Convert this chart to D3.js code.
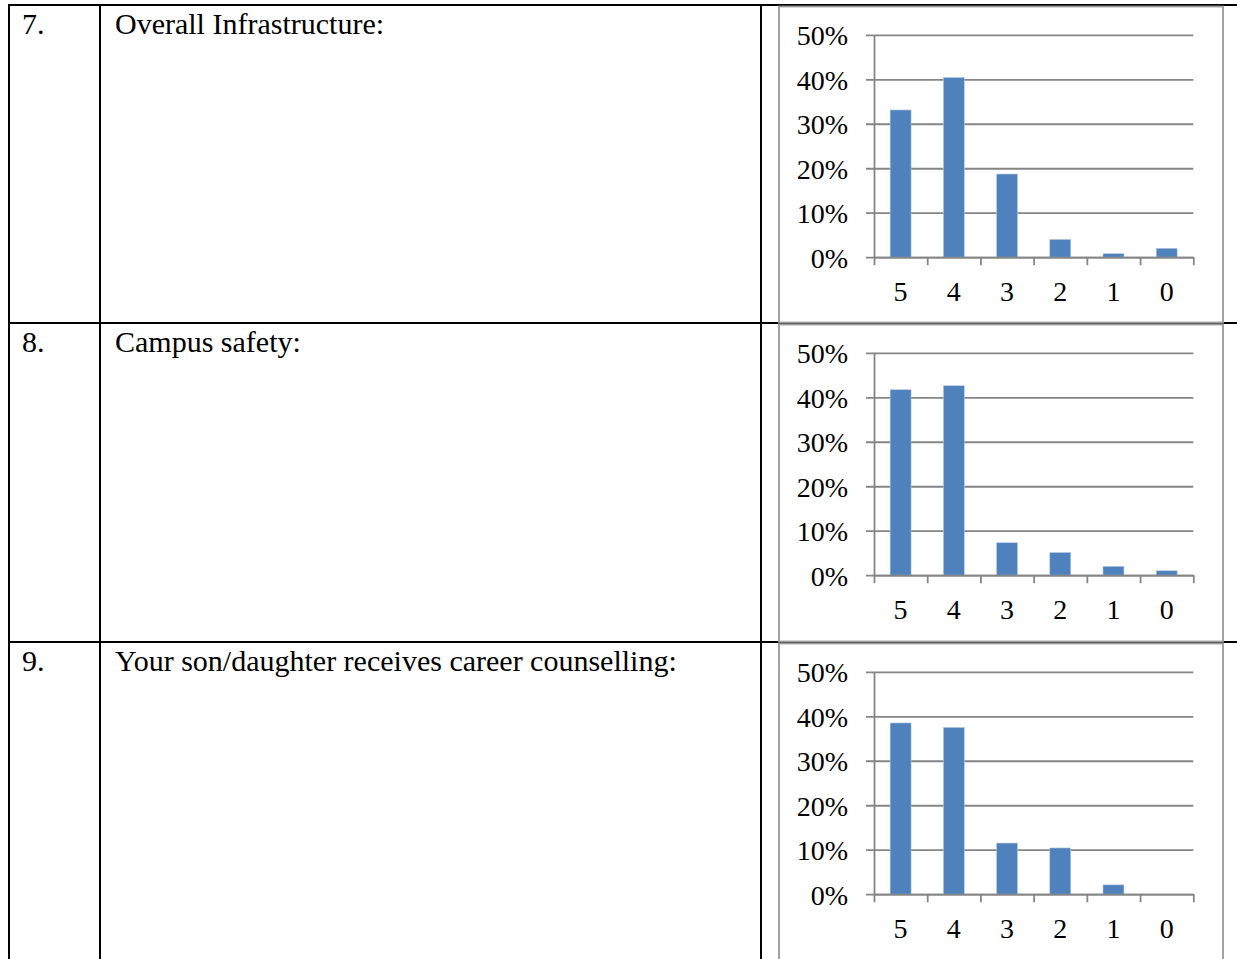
<!DOCTYPE html>
<html>
<head>
<meta charset="utf-8">
<script src="https://cdn.jsdelivr.net/npm/d3@7"></script>
<style>
  body { margin: 0; background: #fff; }
  svg { display: block; }
  .rowtext { font-family: "Liberation Serif", "Times New Roman", serif; font-size: 30px; fill: #000; }
  .axislabel { font-family: "Liberation Serif", serif; font-size: 28px; fill: #000; }
</style>
</head>
<body>
<svg width="1237" height="959"></svg>
<script>
// survey rows
const itemNumbers = ["7.", "8.", "9."];
const itemLabels = [
  "Overall Infrastructure:",
  "Campus safety:",
  "Your son/daughter receives career counselling:"
];
const ratings = ["5", "4", "3", "2", "1", "0"];

// percentage of responses per rating
const infrastructure = [33.1, 40.4, 18.7, 4.0, 0.8, 2.0];
const campusSafety = [41.7, 42.6, 7.3, 5.1, 2.0, 1.0];
const careerCounselling = [38.5, 37.5, 11.5, 10.4, 2.1, 0];
const seriesList = [infrastructure, campusSafety, careerCounselling];

const yTicks = [0, 10, 20, 30, 40, 50];

const W = 1237, H = 959;
const rowTops = [5, 323, 642];
const tableLeft = 9, colNum = 100, colChart = 761;
const frameLeft = 779, frameRight = 1223;
const plotLeft = 874, plotRight = 1193.3, plotH = 222.4;
const gray = "#858585";
const barColor = "#4F81BD";

const svg = d3.select("svg");

// table grid
const tbl = svg.append("g");
rowTops.forEach(y => {
  tbl.append("line")
    .attr("x1", tableLeft - 1).attr("x2", W)
    .attr("y1", y).attr("y2", y)
    .attr("stroke", "#000").attr("stroke-width", 2);
});
[tableLeft, colNum, colChart].forEach(x => {
  tbl.append("line")
    .attr("x1", x).attr("x2", x)
    .attr("y1", rowTops[0] - 1).attr("y2", H)
    .attr("stroke", "#000").attr("stroke-width", 2);
});

// x scales shared by every chart
const x = d3.scaleBand()
  .domain(ratings)
  .range([plotLeft, plotRight])
  .paddingInner(0.606)
  .paddingOuter(0.303);
const xEdges = d3.scaleLinear().domain([0, ratings.length]).range([plotLeft, plotRight]);

rowTops.forEach((top, i) => {
  const g = svg.append("g");

  g.append("text").attr("class", "rowtext")
    .attr("x", 22).attr("y", top + 29)
    .text(itemNumbers[i]);
  g.append("text").attr("class", "rowtext")
    .attr("x", 115).attr("y", top + 29)
    .text(itemLabels[i]);

  // chart frame
  const fTop = top + 1.5;
  const fBottom = i < rowTops.length - 1 ? rowTops[i + 1] - 0.5 : H + 5;
  g.append("rect")
    .attr("x", frameLeft).attr("y", fTop)
    .attr("width", frameRight - frameLeft)
    .attr("height", fBottom - fTop)
    .attr("fill", "#fff")
    .attr("stroke", "#9a9a9a").attr("stroke-width", 1.8);

  const plotTop = top + 29.8;
  const y = d3.scaleLinear().domain([0, 50]).range([plotTop + plotH, plotTop]);

  // gridlines + left ticks
  const yAxis = g.append("g")
    .attr("transform", `translate(${plotLeft},0)`)
    .call(d3.axisLeft(y)
      .tickValues(yTicks)
      .tickSizeInner(-(plotRight - plotLeft))
      .tickSizeOuter(0)
      .tickPadding(26)
      .tickFormat(d => d + "%"));
  yAxis.select(".domain").attr("stroke", gray).attr("stroke-width", 1.8);
  yAxis.selectAll(".tick line")
    .attr("x1", -8)
    .attr("stroke", gray).attr("stroke-width", 1.8);
  yAxis.selectAll(".tick text")
    .attr("class", "axislabel")
    .attr("font-family", null).attr("font-size", null)
    .attr("dy", "0.35em");

  // bars
  g.selectAll("rect.bar")
    .data(seriesList[i])
    .join("rect")
    .attr("class", "bar")
    .attr("x", (d, j) => x(ratings[j]))
    .attr("width", x.bandwidth())
    .attr("y", d => y(d))
    .attr("height", d => y(0) - y(d))
    .attr("fill", barColor)
    .attr("stroke", "#b9cde5")
    .attr("stroke-width", 0.6);

  // category axis: ticks at band edges, labels at centres
  const xAxis = g.append("g")
    .attr("transform", `translate(0,${y(0)})`)
    .call(d3.axisBottom(xEdges)
      .tickValues(d3.range(ratings.length + 1))
      .tickSizeInner(8)
      .tickSizeOuter(0)
      .tickFormat(""));
  xAxis.select(".domain").attr("stroke", gray).attr("stroke-width", 1.8);
  xAxis.selectAll(".tick line").attr("stroke", gray).attr("stroke-width", 1.8);

  g.selectAll("text.xlab")
    .data(ratings)
    .join("text")
    .attr("class", "xlab axislabel")
    .attr("x", d => x(d) + x.bandwidth() / 2)
    .attr("y", y(0) + 43.5)
    .attr("text-anchor", "middle")
    .text(d => d);
});
</script>
</body>
</html>
